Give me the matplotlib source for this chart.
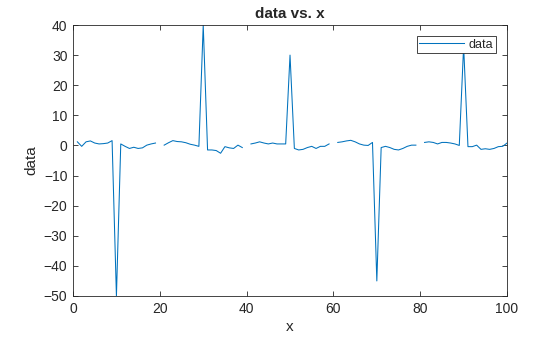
import numpy as np
import matplotlib
matplotlib.use("Agg")
import matplotlib.pyplot as plt

# Sample positions and values (NaN marks the gaps in the trace).
x_values = np.arange(1, 101)
data_values = np.array([
    1.2, -0.3, 1.2, 1.5, 0.8, 0.5, 0.6, 0.8, 1.6, -50.0,
    0.5, -0.3, -1.0, -0.6, -1.0, -0.8, 0.1, 0.5, 0.8, np.nan,
    0.1, 0.9, 1.6, 1.3, 1.2, 0.9, 0.4, 0.1, -0.3, 40.0,
    -1.5, -1.5, -1.7, -2.6, -0.4, -0.8, -1.0, 0.1, -0.7, np.nan,
    0.5, 0.8, 1.2, 0.8, 0.5, 0.8, 0.5, 0.5, 0.5, 30.0,
    -1.0, -1.5, -1.3, -0.7, -0.3, -1.0, -0.3, -0.3, 0.5, np.nan,
    1.0, 1.2, 1.5, 1.7, 1.2, 0.5, 0.1, 0.0, 1.0, -45.0,
    -0.7, -0.3, -0.7, -1.3, -1.5, -1.0, -0.3, 0.1, 0.1, np.nan,
    1.0, 1.2, 1.0, 0.5, 1.0, 1.0, 0.8, 0.5, 0.0, 33.0,
    -0.4, -0.4, 0.1, -1.3, -1.1, -1.3, -1.0, -0.4, -0.3, 0.8,
])

X_TICKS = [0, 20, 40, 60, 80, 100]
Y_TICKS = list(range(-50, 41, 10))

TEXT_COLOR = "#262626"
LINE_COLOR = "#0072BD"

plt.rcParams["font.family"] = ["Liberation Sans", "DejaVu Sans"]

fig = plt.figure(figsize=(5.6, 3.37), dpi=100)
ax = fig.add_axes([0.1304, 0.1217, 0.775, 0.8041])

ax.plot(x_values, data_values, color=LINE_COLOR, linewidth=0.75, label="data")

ax.set_xlim(0, 100)
ax.set_ylim(-50, 40)
ax.set_xticks(X_TICKS)
ax.set_yticks(Y_TICKS)

ax.tick_params(direction="in", length=3.5, width=0.6, top=True, right=True,
               labelsize=10, colors=TEXT_COLOR, pad=4)
for spine in ax.spines.values():
    spine.set_linewidth(0.6)
    spine.set_color(TEXT_COLOR)

ax.set_xlabel("x", fontsize=11, color=TEXT_COLOR, labelpad=3)
ax.set_ylabel("data", fontsize=11, color=TEXT_COLOR, labelpad=4)
ax.set_title("data vs. x", fontsize=11, fontweight="bold", color=TEXT_COLOR, pad=5)

legend = ax.legend(loc="upper right", fontsize=9, frameon=True, fancybox=False,
                   edgecolor=TEXT_COLOR, framealpha=1, handlelength=3.6,
                   borderpad=0.2, handletextpad=0.35, borderaxespad=0.9)
legend.get_frame().set_linewidth(0.6)
for text in legend.get_texts():
    text.set_color(TEXT_COLOR)

fig.savefig("out.png", dpi=100)
